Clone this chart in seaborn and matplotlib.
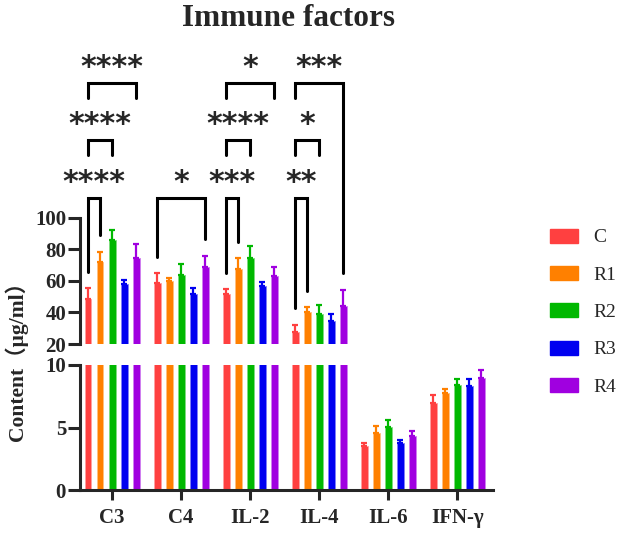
import matplotlib
matplotlib.use('Agg')
import matplotlib.pyplot as plt
from matplotlib.patches import Patch
import seaborn as sns
import pandas as pd
import numpy as np

factors = ['C3', 'C4', 'IL-2', 'IL-4', 'IL-6', 'IFN-γ']
groups = ['C', 'R1', 'R2', 'R3', 'R4']
colors = ['#FF4040', '#FF8000', '#00B800', '#0000F0', '#A000E0']

# group means, one value per factor
mean_c = [48.6, 58.5, 52.0, 27.4, 3.53, 6.98]
mean_r1 = [72.3, 60.0, 67.4, 40.3, 4.60, 7.73]
mean_r2 = [86.0, 63.6, 74.8, 38.8, 5.08, 8.40]
mean_r3 = [57.9, 51.5, 56.6, 34.8, 3.80, 8.32]
mean_r4 = [74.4, 68.9, 63.4, 43.9, 4.33, 8.93]

# upper error (SD)
sd_c = [7.1, 6.8, 3.0, 4.6, 0.27, 0.62]
sd_r1 = [6.3, 1.7, 7.4, 3.0, 0.53, 0.35]
sd_r2 = [6.4, 7.4, 7.4, 6.2, 0.52, 0.48]
sd_r3 = [2.7, 3.8, 3.0, 4.2, 0.18, 0.56]
sd_r4 = [8.9, 7.2, 5.5, 10.1, 0.40, 0.67]

means = [mean_c, mean_r1, mean_r2, mean_r3, mean_r4]
sds = [sd_c, sd_r1, sd_r2, sd_r3, sd_r4]

# significance: factor, group a, group b, label, bracket top, leg a end, leg b end
sig_factor = [0, 0, 0, 1, 2, 2, 2, 3, 3, 3]
sig_a = [0, 0, 0, 0, 0, 0, 0, 0, 0, 0]
sig_b = [1, 2, 4, 4, 1, 2, 4, 1, 2, 4]
sig_label = ['****', '****', '****', '*', '***', '****', '*', '**', '*', '***']
sig_top = [113, 149.5, 186, 113, 113, 149.5, 186, 113, 149.5, 186]
sig_leg_a = [66, 140, 176, 75.4, 65.3, 140, 176, 42.9, 140, 176]
sig_leg_b = [89, 140, 176, 86.7, 85, 140, 176, 53.7, 140, 65]

df = pd.DataFrame({
    'factor': np.tile(factors, len(groups)),
    'group': np.repeat(groups, len(factors)),
    'value': np.concatenate(means),
})

serif = ['Liberation Serif', 'Noto Sans CJK SC', 'DejaVu Sans']
sns.set_style('ticks')
plt.rcParams['font.family'] = serif
plt.rcParams['font.weight'] = 'bold'

W, H = 624, 533
fig = plt.figure(figsize=(W / 100, H / 100), dpi=100)
x0, x1 = 80, 493
ax_top = fig.add_axes([x0 / W, (H - 344) / H, (x1 - x0) / W, (344 - 52.6) / H])
ax_bot = fig.add_axes([x0 / W, (H - 490) / H, (x1 - x0) / W, 125 / H])

width = 0.87
slot = width / len(groups)
xs = np.arange(len(factors))

for ax in (ax_top, ax_bot):
    sns.barplot(data=df, x='factor', y='value', hue='group', palette=colors,
                width=width, gap=0.42, errorbar=None, legend=False, ax=ax,
                saturation=1)
    for p in ax.patches:
        p.set_linewidth(0.6)
        fc = np.array(p.get_facecolor())
        p.set_edgecolor(tuple(fc[:3] * 0.5 + 0.5) + (1,))
    for j in range(len(groups)):
        ax.errorbar(xs + (j - 2) * slot, means[j],
                    yerr=[np.zeros(len(factors)), sds[j]], fmt='none',
                    ecolor=colors[j], elinewidth=1.6, capsize=2.5, capthick=1.6)
    ax.set_xlim(-0.464, 5.52)
    ax.set_xlabel('')
    ax.set_ylabel('')
    sns.despine(ax=ax)
    ax.spines['left'].set_linewidth(2.2)
    ax.tick_params(axis='y', length=8.5, width=2.2, labelsize=15, pad=1.5)

ax_top.set_ylim(20, 205)
ax_top.set_yticks([20, 40, 60, 80, 100])
ax_top.spines['left'].set_bounds(20, 100)
ax_top.spines['bottom'].set_visible(False)
ax_top.tick_params(axis='x', bottom=False, labelbottom=False)

ax_bot.set_ylim(0, 10)
ax_bot.set_yticks([0, 5, 10])
ax_bot.spines['left'].set_bounds(0, 10)
ax_bot.spines['bottom'].set_linewidth(2.2)
ax_bot.tick_params(axis='x', length=7, width=2.2, labelsize=15, pad=6)

# brackets
for f, a, b, lab, top, la, lb in zip(sig_factor, sig_a, sig_b, sig_label,
                                      sig_top, sig_leg_a, sig_leg_b):
    xa = f + (a - 2) * slot
    xb = f + (b - 2) * slot
    ax_top.plot([xa, xa, xb, xb], [la, top, top, lb], color='black',
                lw=2.2, solid_joinstyle='miter', clip_on=False)
    ax_top.text((xa + xb) / 2, top + 0.5, lab, ha='center', va='bottom',
                fontsize=21.5, fontweight='bold', family='DejaVu Sans')

fig.text(0.463, 1 - 18 / H, 'Immune factors', ha='center', va='center',
         fontsize=22.5, fontweight='bold')
fig.text(16 / W, 1 - 356 / H, 'Content（μg/ml）', ha='center', va='center',
         rotation=90, fontsize=15.5, fontweight='bold')

handles = [Patch(facecolor=c, edgecolor=c) for c in colors]
fig.legend(handles, groups, loc='upper left', bbox_to_anchor=(532 / W, 1 - 211 / H),
           frameon=False, handlelength=1.45, handleheight=0.75,
           handletextpad=0.8, labelspacing=1.0,
           prop={'family': serif, 'weight': 'normal', 'size': 14})

fig.savefig('out.png', dpi=100)
